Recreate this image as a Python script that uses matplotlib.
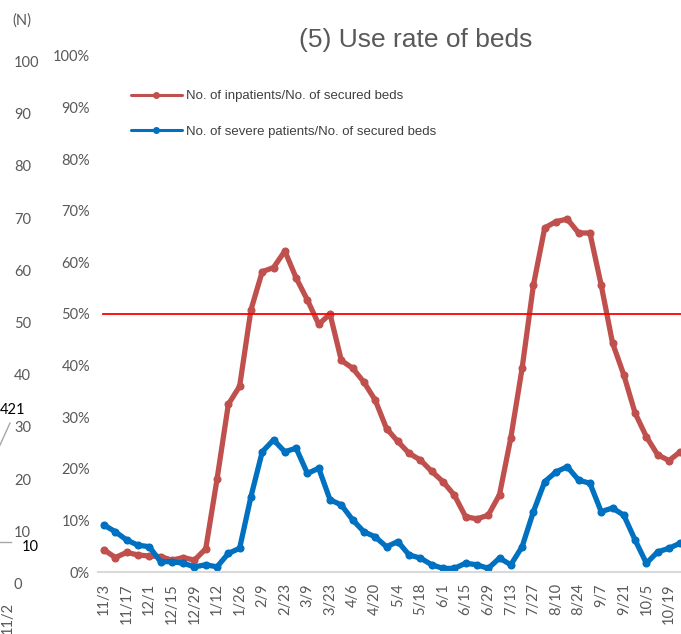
import matplotlib.pyplot as plt

# weekly dates (category labels)
dates = ['11/3', '11/10', '11/17', '11/24', '12/1', '12/8', '12/15', '12/22', '12/29',
         '1/5', '1/12', '1/19', '1/26', '2/2', '2/9', '2/16', '2/23', '3/2', '3/9',
         '3/16', '3/23', '3/30', '4/6', '4/13', '4/20', '4/27', '5/4', '5/11', '5/18',
         '5/25', '6/1', '6/8', '6/15', '6/22', '6/29', '7/6', '7/13', '7/20', '7/27',
         '8/3', '8/10', '8/17', '8/24', '8/31', '9/7', '9/14', '9/21', '9/28', '10/5',
         '10/12', '10/19', '10/26']

# No. of inpatients / No. of secured beds (%)
inpatients = [4.3, 2.8, 3.8, 3.3, 3.1, 3.0, 2.3, 2.8, 2.3, 4.5, 18.0, 32.5, 36.0,
              50.8, 58.2, 59.0, 62.2, 57.0, 52.7, 48.0, 50.0, 41.0, 39.5, 36.8,
              33.3, 27.8, 25.3, 23.0, 21.7, 19.5, 17.5, 14.9, 10.7, 10.3, 11.0,
              15.0, 26.0, 39.5, 55.6, 66.7, 67.9, 68.4, 65.7, 65.7, 55.6, 44.4,
              38.2, 30.8, 26.2, 22.7, 21.6, 23.3]

# No. of severe patients / No. of secured beds (%)
severe = [9.1, 7.8, 6.2, 5.2, 4.9, 2.0, 2.0, 1.7, 1.0, 1.4, 1.0, 3.6, 4.6, 14.6,
          23.3, 25.6, 23.3, 24.0, 19.1, 20.1, 14.0, 13.0, 10.1, 7.8, 6.8, 4.9,
          5.9, 3.3, 2.7, 1.4, 0.7, 0.7, 1.7, 1.4, 0.7, 2.7, 1.4, 4.9, 11.7, 17.5,
          19.4, 20.4, 17.8, 17.2, 11.7, 12.4, 11.0, 6.2, 1.7, 3.9, 4.6, 5.6]

threshold = 50
pct_ticks = [0, 10, 20, 30, 40, 50, 60, 70, 80, 90, 100]
n_ticks = [0, 10, 20, 30, 40, 50, 60, 70, 80, 90, 100]

W, H = 681, 634
fig = plt.figure(figsize=(W / 100, H / 100), dpi=100)

def px(x, y):
    return x / W, 1 - y / H

grey = '#595959'

# leftover axis of the neighbouring chart
ax_n = fig.add_axes([14 / W, (H - 585) / H, 0.02, (585 - 63) / H])
ax_n.set_ylim(0, 100)
ax_n.axis('off')
for v in n_ticks:
    ax_n.text(0, v, str(v), ha='left', va='center', fontsize=10.5,
              color=grey, family='Lato')
fig.text(*px(12, 21), '(N)', ha='left', va='center', fontsize=10.5,
         color=grey, family='Lato')
fig.text(*px(0, 410), '421', ha='left', va='center', fontsize=10.5,
         color='black', family='Lato')
fig.text(*px(22, 547), '10', ha='left', va='center', fontsize=10.5,
         color='black', family='Lato')
fig.add_artist(plt.Line2D([0, 10 / W], [1 - 445 / H, 1 - 423 / H],
                          color='#a6a6a6', lw=1))
fig.add_artist(plt.Line2D([0, 11 / W], [1 - 542 / H, 1 - 542 / H],
                          color='#a6a6a6', lw=1))
fig.text(*px(8, 602), '11/2', ha='center', va='top', rotation=90,
         fontsize=10.5, color=grey, family='Lato')

# main chart
left = 98.4
ax = fig.add_axes([left / W, (H - 572) / H, (W - left) / W, 516 / H])
x = list(range(len(dates)))
ax.plot(x, inpatients, color='#C0504D', lw=3.8, marker='o', ms=4.8,
        label='No. of inpatients/No. of secured beds', solid_capstyle='round')
ax.plot(x, severe, color='#0070C0', lw=3.8, marker='o', ms=4.8,
        label='No. of severe patients/No. of secured beds', solid_capstyle='round')
ax.axhline(threshold, color='#FF0000', lw=1.3, xmin=0.008)

ax.set_xlim(-0.5, (W - 104) / 11.3)
ax.set_ylim(0, 100)
ax.set_yticks(pct_ticks)
ax.set_yticklabels([f'{t}%' for t in pct_ticks])
ax.set_xticks(x[::2])
ax.set_xticklabels(dates[::2], rotation=90)
ax.tick_params(axis='both', length=0, labelsize=10.5, labelcolor=grey)
ax.tick_params(axis='y', pad=6)
ax.tick_params(axis='x', pad=8)
for lab in ax.get_xticklabels() + ax.get_yticklabels():
    lab.set_family('Lato')
for s in ['top', 'right', 'left']:
    ax.spines[s].set_visible(False)
ax.spines['bottom'].set_color('#d9d9d9')
ax.spines['bottom'].set_linewidth(1.5)
ax.patch.set_alpha(0)

leg = ax.legend(loc='upper left', bbox_to_anchor=(0.035, 0.957), frameon=False,
                handlelength=3.9, labelspacing=1.75, handletextpad=0.3,
                prop={'family': 'Liberation Sans', 'size': 9.5})
for t in leg.get_texts():
    t.set_color('#404040')
for h in leg.legend_handles:
    h.set_linewidth(2.2)
    h.set_markersize(4)

fig.text(*px(416, 40), '(5) Use rate of beds', ha='center', va='center',
         fontsize=19, color=grey, family='Liberation Sans')

fig.savefig('out.png', dpi=100)
